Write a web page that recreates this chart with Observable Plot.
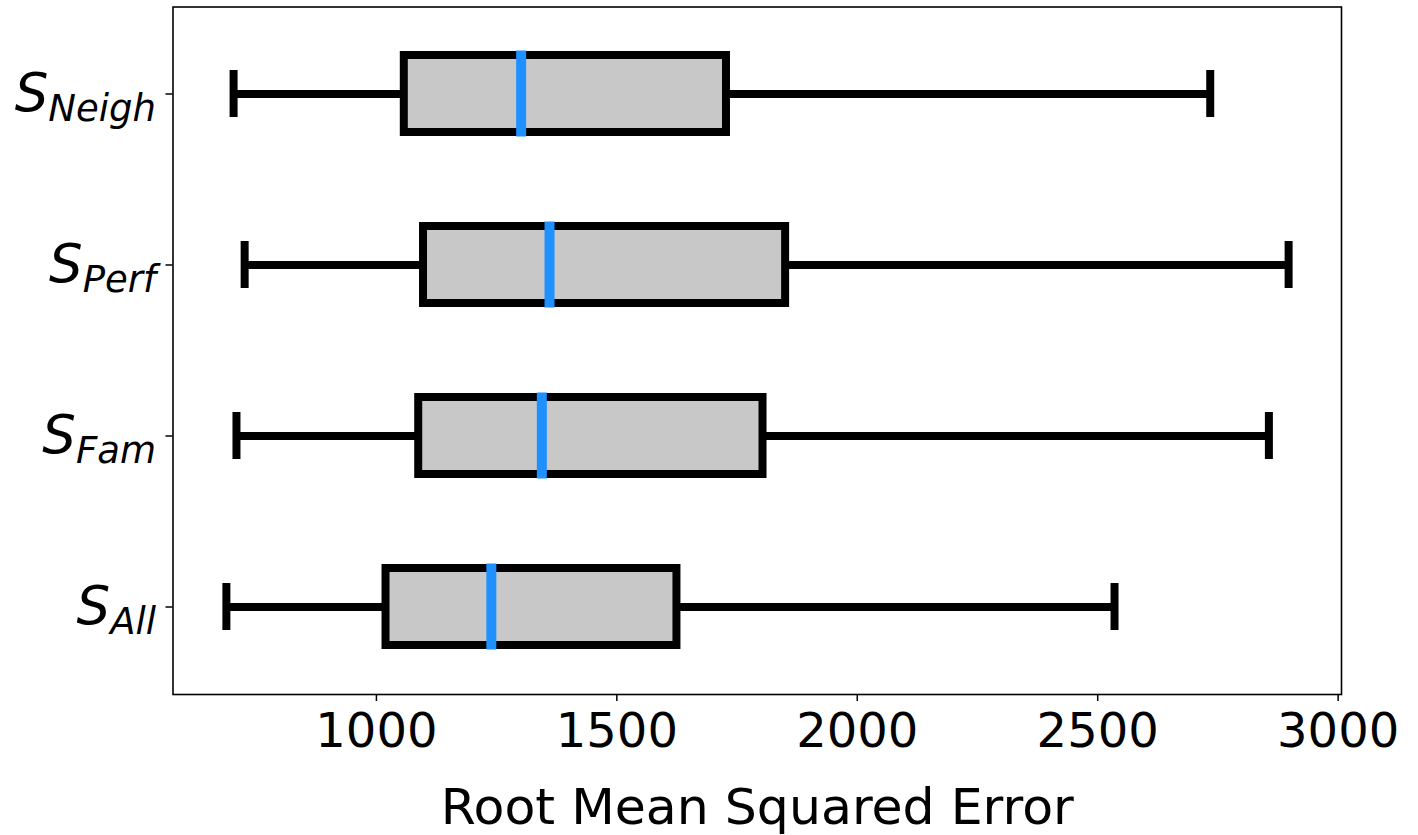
<!DOCTYPE html>
<html>
<head>
<meta charset="utf-8">
<script src="https://cdn.jsdelivr.net/npm/d3@7"></script>
<script src="https://cdn.jsdelivr.net/npm/@observablehq/plot@0.6"></script>
<style>
  body { margin: 0; background: #fff; }
  #chart svg { display: block; overflow: visible; }
</style>
</head>
<body>
<div id="chart"></div>
<script>
// Box-plot statistics of the RMSE for each feature set (top to bottom)
const groups = ["Neigh", "Perf", "Fam", "All"];
const whiskerLow = [703, 726, 709, 688];
const q1 = [1058, 1098, 1088, 1020];
const median = [1301, 1360, 1344, 1239];
const q3 = [1728, 1851, 1804, 1625];
const whiskerHigh = [2734, 2897, 2856, 2535];

const xTicks = [1000, 1500, 2000, 2500, 3000];
const xLabel = "Root Mean Squared Error";
const symbol = "S";

const rows = groups.map((g, i) => ({
  group: g, lo: whiskerLow[i], q1: q1[i], med: median[i], q3: q3[i], hi: whiskerHigh[i]
}));

const ink = "#000";
const lw = 8;

const chart = Plot.plot({
  width: 1418,
  height: 835,
  marginLeft: 172.5,
  marginRight: 77,
  marginTop: 6.5,
  marginBottom: 141,
  style: { fontFamily: "DejaVu Sans", background: "#fff", color: "#000" },
  x: { domain: [577, 3007] },
  y: { domain: groups, paddingInner: 0.552, paddingOuter: 0.276 },
  marks: [
    // whiskers
    Plot.ruleY(rows, { y: "group", x1: "lo", x2: "q1", stroke: ink, strokeWidth: lw }),
    Plot.ruleY(rows, { y: "group", x1: "q3", x2: "hi", stroke: ink, strokeWidth: lw }),
    // whisker caps
    Plot.tickX(rows, { x: "lo", y: "group", stroke: ink, strokeWidth: lw, insetTop: 15, insetBottom: 15 }),
    Plot.tickX(rows, { x: "hi", y: "group", stroke: ink, strokeWidth: lw, insetTop: 15, insetBottom: 15 }),
    // interquartile boxes
    Plot.barX(rows, { x1: "q1", x2: "q3", y: "group", fill: "#c8c8c8", stroke: ink, strokeWidth: lw }),
    // medians
    Plot.tickX(rows, { x: "med", y: "group", stroke: "#1e90ff", strokeWidth: 10, insetTop: -4.5, insetBottom: -4.5 }),
    Plot.frame({ stroke: ink, strokeWidth: 1.6 }),
    Plot.axisX({
      ticks: xTicks, tickSize: 7, tickPadding: 11, tickFormat: d3.format("d"),
      fontSize: 48, label: null, stroke: ink, strokeWidth: 1.5, fill: ink
    }),
    Plot.axisY({
      tickSize: 7, tickPadding: 10, fontSize: 53, fontStyle: "italic",
      label: null, stroke: ink, strokeWidth: 1.5, fill: ink
    }),
    Plot.text([xLabel], {
      text: d => d, frameAnchor: "bottom", lineAnchor: "top", dy: 94,
      fontSize: 50.5, fill: ink
    })
  ]
});

// Y tick labels are written as S with the group name as an italic subscript
d3.select(chart).selectAll('g[aria-label="y-axis tick label"] text').each(function () {
  const name = this.textContent;
  const t = d3.select(this);
  t.text(null);
  t.append("tspan").text(symbol);
  t.append("tspan").attr("font-size", 37).attr("dy", 10).text(name);
});

document.getElementById("chart").appendChild(chart);
</script>
</body>
</html>
